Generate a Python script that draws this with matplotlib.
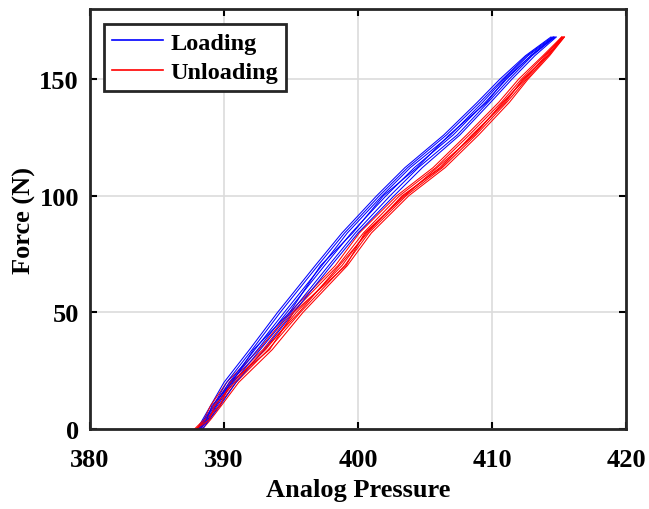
import matplotlib
matplotlib.use("Agg")
import matplotlib.pyplot as plt

# Force levels (N) at which cycle positions were read
load_force = [0, 4, 10, 20, 34, 50, 70, 84, 100, 112, 126, 140, 150, 160, 168]
unload_force = [168, 160, 150, 140, 126, 112, 100, 84, 70, 50, 34, 20, 10, 4, 0]

# Analog pressure per loading cycle
loading_cycles = [
    [388.0, 388.4, 389.0, 390.0, 391.9, 394.0, 396.8, 398.8, 401.4, 403.5, 406.4, 408.9, 410.6, 412.5, 414.4],
    [388.1, 388.5, 389.2, 390.2, 392.1, 394.2, 397.0, 399.0, 401.6, 403.7, 406.6, 409.1, 410.8, 412.6, 414.5],
    [388.2, 388.6, 389.3, 390.4, 392.3, 394.5, 397.3, 399.2, 401.8, 403.9, 406.9, 409.3, 410.9, 412.7, 414.6],
    [388.3, 388.7, 389.4, 390.5, 392.5, 394.7, 397.5, 399.5, 402.1, 404.2, 407.1, 409.5, 411.1, 412.9, 414.7],
    [388.2, 388.8, 389.5, 390.7, 392.7, 395.0, 397.8, 399.8, 402.4, 404.5, 407.4, 409.7, 411.3, 413.0, 414.7],
    [388.4, 388.9, 389.7, 390.9, 393.0, 395.2, 398.0, 400.0, 402.7, 404.8, 407.6, 409.9, 411.5, 413.2, 414.8],
    [388.1, 388.7, 389.1, 390.6, 392.2, 394.9, 397.2, 399.6, 401.9, 404.4, 406.8, 409.6, 411.0, 412.9, 414.6],
]

# Analog pressure per unloading cycle
unloading_cycles = [
    [415.2, 413.8, 412.0, 410.5, 408.1, 405.6, 402.9, 400.1, 398.3, 394.9, 392.6, 390.2, 389.0, 388.5, 387.8],
    [415.3, 413.9, 412.2, 410.7, 408.3, 405.8, 403.1, 400.4, 398.5, 395.1, 392.9, 390.4, 389.2, 388.6, 387.9],
    [415.3, 414.1, 412.4, 410.9, 408.6, 406.1, 403.4, 400.6, 398.8, 395.4, 393.1, 390.6, 389.4, 388.8, 388.0],
    [415.4, 414.2, 412.6, 411.1, 408.8, 406.3, 403.6, 400.8, 399.0, 395.7, 393.3, 390.9, 389.6, 388.9, 388.2],
    [415.4, 414.3, 412.7, 411.3, 409.0, 406.5, 403.8, 401.0, 399.2, 395.9, 393.6, 391.1, 389.8, 389.0, 388.4],
    [415.2, 414.0, 412.5, 410.8, 408.7, 405.9, 403.5, 400.5, 399.1, 395.2, 393.4, 390.5, 389.7, 388.6, 388.1],
    [415.3, 414.2, 412.3, 411.0, 408.5, 406.2, 403.3, 400.7, 398.6, 395.6, 393.0, 390.8, 389.3, 388.9, 387.9],
]

x_ticks = [380, 390, 400, 410, 420]
y_ticks = [0, 50, 100, 150]

plt.rcParams['font.family'] = ['Liberation Serif', 'DejaVu Serif']
plt.rcParams['font.weight'] = 'bold'

W, H = 649, 510
fig = plt.figure(figsize=(W / 100, H / 100), dpi=100)
ax = fig.add_axes([90 / W, 1 - 430 / H, 536 / W, 420 / H])

for i in range(len(loading_cycles)):
    ax.plot(loading_cycles[i], load_force, color=(0, 0, 1), lw=0.75,
            label='Loading' if i == 0 else None)
    ax.plot(unloading_cycles[i], unload_force, color=(1, 0, 0), lw=0.75,
            label='Unloading' if i == 0 else None)

ax.set_xlim(380, 420)
ax.set_ylim(0, 180)
ax.set_xticks(x_ticks)
ax.set_yticks(y_ticks)
ax.grid(True, color='#dcdcdc', lw=1.2)
ax.set_axisbelow(True)
ax.tick_params(direction='in', length=5, width=1.5, top=True, right=True,
               labelsize=19)
ax.tick_params(axis='x', pad=14)
ax.tick_params(axis='y', pad=8)
for lab in ax.get_xticklabels() + ax.get_yticklabels():
    lab.set_fontweight('bold')
for s in ax.spines.values():
    s.set_linewidth(2.0)
    s.set_color('#262626')

ax.set_xlabel('Analog Pressure', fontsize=19, fontweight='bold', labelpad=5)
ax.set_ylabel('Force (N)', fontsize=19, fontweight='bold', labelpad=2)

handles, labels = ax.get_legend_handles_labels()
leg = ax.legend(handles, labels, loc='upper left',
                bbox_to_anchor=(104 / W, 1 - 25 / H),
                bbox_transform=fig.transFigure,
                prop={'family': 'Liberation Serif', 'weight': 'bold', 'size': 17.5},
                frameon=True, fancybox=False, edgecolor='#262626',
                handlelength=2.1, handletextpad=0.3, borderpad=0.32,
                labelspacing=0.3, borderaxespad=0, framealpha=1)
leg.get_frame().set_linewidth(2.0)
for line in leg.get_lines():
    line.set_linewidth(1.2)

fig.savefig('out.png', dpi=100)
